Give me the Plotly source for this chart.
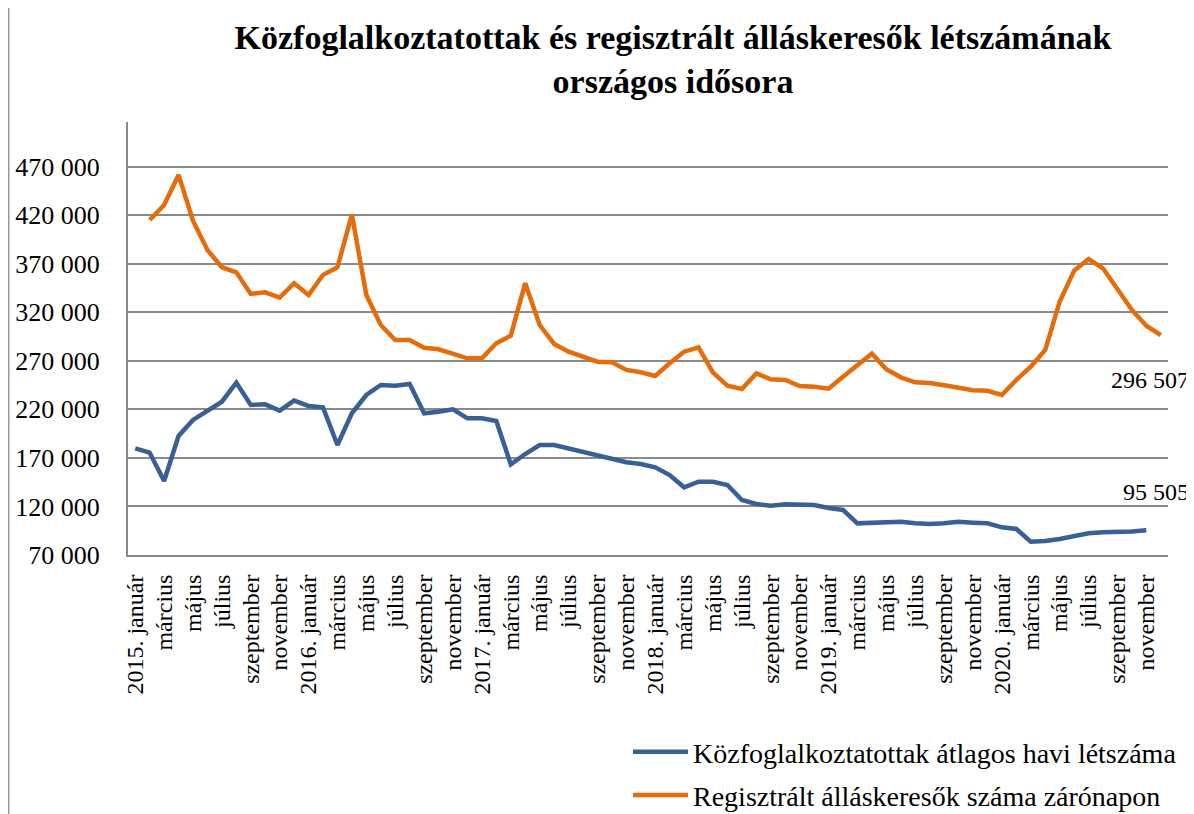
import plotly.graph_objects as go

month_names = ["január", "február", "március", "április", "május", "június",
               "július", "augusztus", "szeptember", "október", "november", "december"]
years = [2015, 2016, 2017, 2018, 2019, 2020]

# 72 monthly categories (2015 Jan .. 2020 Dec)
categories = [f"{y}. {m}" for y in years for m in month_names]
tick_labels = [(f"{y}. {m}" if i == 0 else m) for y in years for i, m in enumerate(month_names)]

# Közfoglalkoztatottak átlagos havi létszáma (first 71 categories)
kozfoglalkoztatottak = [
    179900, 175400, 146200, 192600, 209100, 218700, 227900, 247500, 224500, 225200,
    218700, 229000, 223500, 222100, 183300, 216000, 234800, 245100, 244400, 246100,
    216000, 217600, 220100, 210800, 210800, 208000, 163400, 174000, 183300, 183300,
    179900, 176400, 173000, 168600, 165500, 163700, 160300, 152400, 139700, 145500,
    145500, 142100, 126700, 122500, 120800, 122200, 122200, 121500, 118400, 116400,
    102600, 103300, 104300, 104300, 102600, 101900, 102600, 104300, 103300, 102600,
    98500, 96800, 83700, 84400, 86500, 89600, 92300, 93400, 93700, 94100, 95505,
]

# Regisztrált álláskeresők száma zárónapon (categories 2..72)
allaskeresok = [
    415100, 430500, 461500, 414400, 384200, 366400, 361200, 338900, 340600, 335100,
    349900, 337800, 358400, 366400, 420500, 337800, 306900, 291500, 291500, 283500,
    281900, 277100, 272600, 272600, 288100, 295900, 350000, 306900, 287400, 279400,
    274300, 269100, 268500, 260600, 258200, 254400, 267500, 279400, 283900, 257800,
    244400, 241000, 257100, 250900, 250300, 244100, 243400, 241300, 253700, 265700,
    277400, 261300, 253000, 247900, 247200, 244800, 242700, 239700, 239200, 234800,
    250300, 264000, 281200, 330900, 362900, 374900, 365300, 343000, 322400, 306200, 296507,
]

y_ticks = list(range(70000, 470001, 50000))


def fmt(v):
    return f"{v // 1000} {v % 1000:03d}"


y_tick_text = [fmt(v) for v in y_ticks]

FONT = "Liberation Serif"
BLUE = "#386094"
ORANGE = "#E46C0A"

# the page adds an 8px body margin, so the figure is laid out 8px smaller
W, H = 1186, 806
L, R, T, B = 120, 26, 114, 259
PW = W - L - R

fig = go.Figure()
fig.add_trace(go.Scatter(
    x=categories[:len(kozfoglalkoztatottak)], y=kozfoglalkoztatottak,
    mode="lines", name="Közfoglalkoztatottak átlagos havi létszáma",
    line=dict(color=BLUE, width=4.5), legendgroup="a",
))
fig.add_trace(go.Scatter(
    x=categories[1:1 + len(allaskeresok)], y=allaskeresok,
    mode="lines", name="Regisztrált álláskeresők száma zárónapon",
    line=dict(color=ORANGE, width=4.5), legendgroup="b",
))

fig.add_annotation(x=categories[len(allaskeresok)], y=allaskeresok[-1],
                   text=fmt(allaskeresok[-1]), showarrow=False,
                   xanchor="right", yanchor="middle", xshift=30, yshift=-45,
                   font=dict(family=FONT, size=24, color="black"))
fig.add_annotation(x=categories[len(kozfoglalkoztatottak) - 1], y=kozfoglalkoztatottak[-1],
                   text=fmt(kozfoglalkoztatottak[-1]), showarrow=False,
                   xanchor="right", yanchor="middle", xshift=45, yshift=38,
                   font=dict(family=FONT, size=24, color="black"))

fig.update_layout(
    width=W, height=H,
    margin=dict(l=L, r=R, t=T, b=B, autoexpand=False),
    paper_bgcolor="white", plot_bgcolor="white",
    title=dict(
        text="<b>Közfoglalkoztatottak és regisztrált álláskeresők létszámának<br>országos idősora</b>",
        x=665 / W, xanchor="center", y=1 - 41 / H, yanchor="top",
        font=dict(family=FONT, size=34, color="black"),
    ),
    font=dict(family=FONT, size=24, color="black"),
    showlegend=True,
    legend=dict(
        xref="container", yref="container",
        x=620 / W, xanchor="left", y=1 - 719 / H, yanchor="top",
        font=dict(family=FONT, size=28, color="black"),
        bgcolor="rgba(0,0,0,0)", tracegroupgap=4, itemwidth=55,
    ),
    xaxis=dict(
        type="category", categoryorder="array", categoryarray=categories,
        range=[-0.5, len(categories) - 0.5],
        tickmode="array", tickvals=categories[::2], ticktext=tick_labels[::2],
        tickangle=-90, showgrid=False, showline=True, linecolor="#888888", linewidth=2,
        ticks="", ticklabelstandoff=8, tickfont=dict(family=FONT, size=24),
        zeroline=False, automargin=False,
    ),
    yaxis=dict(
        range=[70000, 516000], tickmode="array", tickvals=y_ticks, ticktext=y_tick_text,
        showgrid=True, gridcolor="#8a8a8a", gridwidth=2,
        showline=True, linecolor="#888888", linewidth=2, ticks="",
        ticklabelstandoff=21, tickfont=dict(family=FONT, size=26), zeroline=False,
        automargin=False,
    ),
    shapes=[dict(type="line", xref="paper", yref="paper",
                 x0=(0.75 - L) / PW, x1=(0.75 - L) / PW, y0=-1, y1=2,
                 line=dict(color="#999999", width=1.5))],
)

fig.write_html("out.html")
